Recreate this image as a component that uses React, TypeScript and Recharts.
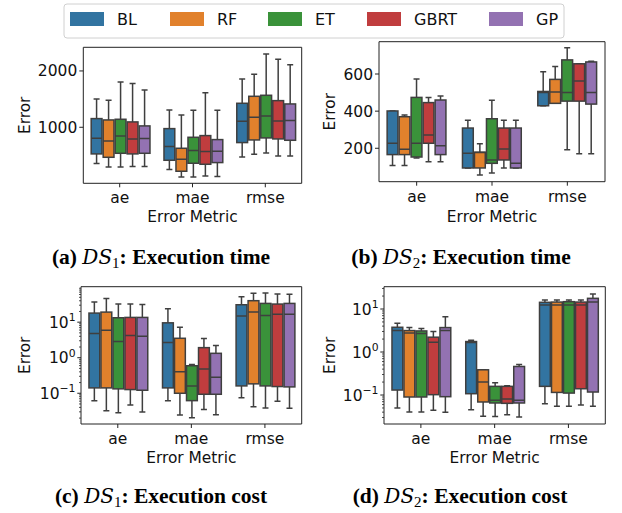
import React from 'react';
import { ComposedChart, Bar, XAxis, YAxis } from 'recharts';

const metrics = ['ae', 'mae', 'rmse'];
const models = ['BL', 'RF', 'ET', 'GBRT', 'GP'];
const colors = ['#3274a1', '#e1812c', '#3a923a', '#c03d3e', '#9372b2'];

// each entry: [low whisker, Q1, median, Q3, high whisker] for ae, mae, rmse
// (a) DS1 execution time
const ds1TimeBL = [[355, 527, 805, 1154, 1503], [249, 414, 657, 976, 1308], [473, 728, 1107, 1426, 1858]];
const ds1TimeRF = [[296, 467, 757, 1130, 1479], [118, 219, 432, 627, 1219], [521, 775, 1178, 1550, 1941]];
const ds1TimeET = [[296, 538, 846, 1142, 1805], [118, 361, 586, 822, 1302], [544, 811, 1201, 1568, 2302]];
const ds1TimeGBRT = [[302, 527, 793, 1095, 1775], [136, 343, 568, 852, 1615], [491, 793, 1112, 1473, 2207]];
const ds1TimeGP = [[302, 538, 799, 1024, 1663], [124, 373, 574, 781, 1302], [491, 769, 1118, 1414, 2112]];

// (b) DS2 execution time
const ds2TimeBL = [[107, 166, 227, 401, 401], [94, 94, 173, 309, 351], [429, 429, 501, 506, 612]];
const ds2TimeRF = [[107, 166, 195, 370, 379], [56, 94, 177, 179, 225], [442, 442, 503, 571, 641]];
const ds2TimeET = [[148, 153, 227, 474, 573], [67, 119, 137, 359, 458], [192, 454, 501, 676, 741]];
const ds2TimeGBRT = [[128, 227, 272, 446, 474], [94, 137, 196, 309, 351], [171, 454, 563, 655, 655]];
const ds2TimeGP = [[128, 166, 213, 460, 482], [94, 94, 119, 309, 351], [171, 438, 501, 665, 669]];

// (c) DS1 execution cost
const ds1CostBL = [[0.062, 0.1416, 4.78, 18, 36.8], [0.062, 0.1416, 2.66, 9.58, 23.8], [0.0753, 0.161, 14.8, 30.9, 52.1]];
const ds1CostRF = [[0.0323, 0.1416, 5.94, 19.2, 46.7], [0.0244, 0.1, 0.402, 3.52, 7.2], [0.042, 0.184, 19.2, 40.2, 64.8]];
const ds1CostET = [[0.0284, 0.133, 2.84, 13.3, 32.3], [0.0205, 0.062, 0.161, 0.594, 0.647], [0.0385, 0.161, 15.5, 33.7, 66.2]];
const ds1CostGBRT = [[0.0468, 0.127, 4.2, 13.6, 32.3], [0.0352, 0.0937, 0.478, 1.92, 3.45], [0.0594, 0.1545, 16.8, 32.3, 62]];
const ds1CostGP = [[0.0296, 0.1216, 4.0, 13.6, 31.6], [0.0249, 0.0937, 0.284, 1.33, 2.19], [0.0376, 0.151, 16.8, 33.7, 60.6]];

// (d) DS2 execution cost
const ds2CostBL = [[0.05, 0.1306, 3.15, 3.76, 4.66], [0.0457, 0.1074, 1.66, 1.75, 1.88], [0.063, 0.159, 12.4, 14.3, 16.2]];
const ds2CostRF = [[0.0404, 0.09, 2.78, 3.15, 3.7], [0.032, 0.0689, 0.2, 0.386, 0.386], [0.0546, 0.115, 12.4, 14.5, 16.2]];
const ds2CostET = [[0.0404, 0.09, 2.68, 3.09, 3.5], [0.0315, 0.0653, 0.0752, 0.159, 0.193], [0.0546, 0.111, 12.4, 14.8, 16.2]];
const ds2CostGBRT = [[0.0442, 0.102, 1.69, 2.21, 2.98], [0.035, 0.0641, 0.0807, 0.159, 0.164], [0.0586, 0.14, 12.4, 14.5, 16.2]];
const ds2CostGP = [[0.0396, 0.0915, 3.15, 3.7, 6.64], [0.0309, 0.0653, 0.0752, 0.461, 0.513], [0.0546, 0.1175, 14.5, 17.7, 22.2]];

const ticksA = [1000, 2000];
const ticksB = [200, 400, 600];
const logTicksC = [0.02, 0.03, 0.04, 0.05, 0.06, 0.07, 0.08, 0.09, 0.1, 0.2, 0.3, 0.4, 0.5, 0.6, 0.7, 0.8, 0.9, 1, 2, 3, 4, 5, 6, 7, 8, 9, 10, 20, 30, 40, 50, 60, 70, 80, 90];
const logTicksD = [0.03, 0.04, 0.05, 0.06, 0.07, 0.08, 0.09, 0.1, 0.2, 0.3, 0.4, 0.5, 0.6, 0.7, 0.8, 0.9, 1, 2, 3, 4, 5, 6, 7, 8, 9, 10, 20, 30];

const FONT = '"DejaVu Sans", sans-serif';
const SERIF = '"Liberation Serif", "Times New Roman", serif';
const LINE = '#3f3f3f';
const FRAME = '#222';
const TXT = '#111';
const TICK_FS = 15.5;

const buildRows = (series: number[][][]) =>
  metrics.map((m, i) => {
    const row: any = { metric: m };
    models.forEach((k, j) => {
      row[k] = series[j][i];
    });
    return row;
  });

function makeShape(model: string, color: string, log: boolean) {
  return (props: any) => {
    const { x, y, width, height, payload } = props;
    const s: number[] = payload[model];
    if (!s || !isFinite(y) || !isFinite(height)) return <g />;
    const top = Math.min(y, y + height);
    const bot = Math.max(y, y + height);
    const f = (v: number) => (log ? Math.log10(v) : v);
    const py = (v: number) => bot + ((f(v) - f(s[0])) / (f(s[4]) - f(s[0]))) * (top - bot);
    const cx = x + width / 2;
    const capW = width * 0.5;
    const yq1 = py(s[1]);
    const yq3 = py(s[3]);
    const ymed = py(s[2]);
    const sw = 1.5;
    return (
      <g>
        <line x1={cx} x2={cx} y1={yq3} y2={top} stroke={LINE} strokeWidth={sw} />
        <line x1={cx} x2={cx} y1={yq1} y2={bot} stroke={LINE} strokeWidth={sw} />
        <line x1={cx - capW / 2} x2={cx + capW / 2} y1={top} y2={top} stroke={LINE} strokeWidth={sw} />
        <line x1={cx - capW / 2} x2={cx + capW / 2} y1={bot} y2={bot} stroke={LINE} strokeWidth={sw} />
        <rect x={x + 0.6} y={yq3} width={Math.max(width - 1.2, 0)} height={Math.max(yq1 - yq3, 0)} fill={color} stroke={LINE} strokeWidth={sw} />
        <line x1={x + 0.6} x2={x + width - 0.6} y1={ymed} y2={ymed} stroke={LINE} strokeWidth={sw} />
      </g>
    );
  };
}

const LogTick = (props: any) => {
  const { x, y, payload } = props;
  const v = payload.value;
  const lg = Math.log10(v);
  const e = Math.round(lg);
  const major = Math.abs(lg - e) < 1e-6;
  if (!major) {
    return <line x1={x} x2={x - 2} y1={y} y2={y} stroke={FRAME} strokeWidth={0.8} />;
  }
  return (
    <g>
      <line x1={x} x2={x - 3.7} y1={y} y2={y} stroke={FRAME} strokeWidth={1} />
      <text x={x - 5.5} y={y} dy="0.36em" textAnchor="end" fontFamily={FONT} fontSize={TICK_FS} fill={TXT}>
        10
        <tspan dy={-6.5} fontSize={10.8}>{e < 0 ? '\u2212' + -e : String(e)}</tspan>
      </text>
    </g>
  );
};

type PanelProps = {
  series: number[][][];
  plot: { l: number; r: number; t: number; b: number };
  domain: [number, number];
  log: boolean;
  ticks: number[];
};

function Panel({ series, plot, domain, log, ticks }: PanelProps) {
  const yW = 60;
  const xH = 30;
  const rows = buildRows(series);
  return (
    <div style={{ position: 'absolute', left: 0, top: 0 }}>
      <ComposedChart
        width={622}
        height={513}
        data={rows}
        margin={{ top: plot.t - 1, left: plot.l - yW, right: 622 - plot.r - 1, bottom: 513 - plot.b - xH }}
        barCategoryGap="10%"
        barGap={0}
      >
        <XAxis
          dataKey="metric"
          height={xH}
          interval={0}
          tickSize={4}
          tickMargin={5}
          stroke={FRAME}
          tick={{ fontSize: TICK_FS, fill: TXT, fontFamily: FONT }}
        />
        <XAxis xAxisId="t" orientation="top" height={1} tick={false} tickLine={false} stroke={FRAME} />
        {log ? (
          <YAxis
            type="number"
            scale="log"
            domain={domain}
            allowDataOverflow
            ticks={ticks}
            interval={0}
            width={yW}
            tickSize={0}
            tickMargin={0}
            tickLine={false}
            stroke={FRAME}
            tick={<LogTick />}
          />
        ) : (
          <YAxis
            type="number"
            domain={domain}
            allowDataOverflow
            ticks={ticks}
            interval={0}
            width={yW}
            tickSize={4}
            tickMargin={2}
            stroke={FRAME}
            tick={{ fontSize: TICK_FS, fill: TXT, fontFamily: FONT }}
          />
        )}
        <YAxis yAxisId="r" orientation="right" width={1} type="number" domain={[0, 1]} tick={false} tickLine={false} stroke={FRAME} />
        {models.map((m, i) => (
          <Bar
            key={m}
            dataKey={(d: any) => [d[m][0], d[m][4]]}
            fill={colors[i]}
            shape={makeShape(m, colors[i], log)}
            isAnimationActive={false}
          />
        ))}
      </ComposedChart>
    </div>
  );
}

const legendX = [70, 170, 268, 367, 489];

const Caption = ({ cx, y, tag, sub, title }: any) => (
  <text x={cx} y={y} textAnchor="middle" fontFamily={SERIF} fontSize={21.5} fill="#000">
    <tspan fontWeight="bold">{tag} </tspan>
    <tspan fontFamily='"DejaVu Serif", serif' fontStyle="italic" fontSize={20}>DS</tspan>
    <tspan fontSize={15} dy={3.5}>{sub}</tspan>
    <tspan fontWeight="bold" dy={-3.5}>: {title}</tspan>
  </text>
);

export default function App() {
  return (
    <div style={{ position: 'absolute', left: 0, top: 0, width: 622, height: 513, background: '#fff', overflow: 'hidden' }}>
      <Panel
        series={[ds1TimeBL, ds1TimeRF, ds1TimeET, ds1TimeGBRT, ds1TimeGP]}
        plot={{ l: 83.3, r: 301.7, t: 47.3, b: 183.3 }}
        domain={[5, 2420]}
        log={false}
        ticks={ticksA}
      />
      <Panel
        series={[ds2TimeBL, ds2TimeRF, ds2TimeET, ds2TimeGBRT, ds2TimeGP]}
        plot={{ l: 379, r: 605, t: 41.7, b: 181.7 }}
        domain={[20, 774]}
        log={false}
        ticks={ticksB}
      />
      <Panel
        series={[ds1CostBL, ds1CostRF, ds1CostET, ds1CostGBRT, ds1CostGP]}
        plot={{ l: 81, r: 301.7, t: 286.7, b: 424 }}
        domain={[0.01365, 99.5]}
        log={true}
        ticks={logTicksC}
      />
      <Panel
        series={[ds2CostBL, ds2CostRF, ds2CostET, ds2CostGBRT, ds2CostGP]}
        plot={{ l: 384, r: 605.3, t: 286.7, b: 424 }}
        domain={[0.0212, 33]}
        log={true}
        ticks={logTicksD}
      />
      <svg width={622} height={513} style={{ position: 'absolute', left: 0, top: 0, pointerEvents: 'none' }}>
        <rect x={64} y={4} width={500} height={34} rx={3} fill="#fff" fillOpacity={0.8} stroke="#d0d0d0" strokeWidth={1} />
        {models.map((m, i) => (
          <g key={m}>
            <rect x={legendX[i]} y={12} width={34} height={14} fill={colors[i]} />
            <text x={legendX[i] + 47} y={25} fontFamily={FONT} fontSize={16} fill={TXT}>
              {m}
            </text>
          </g>
        ))}
        {[
          [30, 115.3],
          [335, 111.7],
          [30, 355.3],
          [335, 355.3],
        ].map(([x, y], i) => (
          <text key={'yl' + i} x={x} y={y} transform={`rotate(-90 ${x} ${y})`} textAnchor="middle" fontFamily={FONT} fontSize={15.4} fill={TXT}>
            Error
          </text>
        ))}
        {[
          [192.5, 222],
          [492, 221.5],
          [191.3, 462.5],
          [494.6, 462.5],
        ].map(([x, y], i) => (
          <text key={'xl' + i} x={x} y={y} textAnchor="middle" fontFamily={FONT} fontSize={15.4} fill={TXT}>
            Error Metric
          </text>
        ))}
        <Caption cx={161} y={264} tag="(a)" sub="1" title="Execution time" />
        <Caption cx={461} y={264} tag="(b)" sub="2" title="Execution time" />
        <Caption cx={161} y={503} tag="(c)" sub="1" title="Execution cost" />
        <Caption cx={460} y={503} tag="(d)" sub="2" title="Execution cost" />
      </svg>
    </div>
  );
}
